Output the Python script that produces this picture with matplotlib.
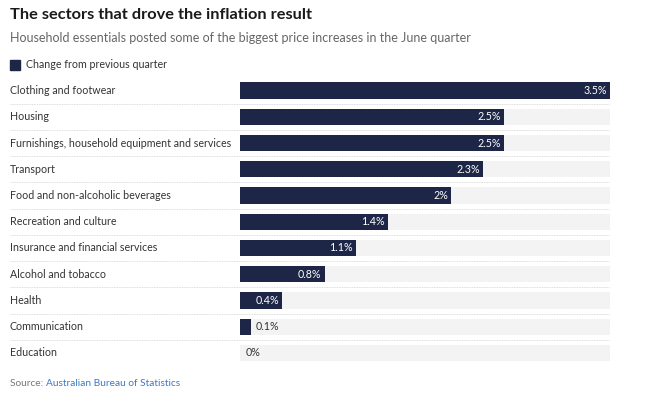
import matplotlib.pyplot as plt
import matplotlib.transforms as mtransforms

categories = ["Clothing and footwear", "Housing", "Furnishings, household equipment and services",
              "Transport", "Food and non-alcoholic beverages", "Recreation and culture",
              "Insurance and financial services", "Alcohol and tobacco", "Health",
              "Communication", "Education"]
values = [3.5, 2.5, 2.5, 2.3, 2.0, 1.4, 1.1, 0.8, 0.4, 0.1, 0.0]
value_labels = ["3.5%", "2.5%", "2.5%", "2.3%", "2%", "1.4%", "1.1%", "0.8%", "0.4%", "0.1%", "0%"]
xmax = 3.5

navy = "#1d2647"
grey_bg = "#f3f3f3"
text_col = "#333333"

plt.rcParams['font.family'] = ['Lato', 'DejaVu Sans']

W, H = 650, 394
fig = plt.figure(figsize=(6.5, 3.94), dpi=100)
# axes spans the bar area in pixels
ax_l, ax_r, ax_t, ax_b = 240, 610, 77.5, 366
ax = fig.add_axes([ax_l / W, 1 - ax_b / H, (ax_r - ax_l) / W, (ax_b - ax_t) / H])
n = len(categories)
ypos = list(range(n))
ax.set_xlim(0, xmax)
ax.set_ylim(n - 0.5, -0.5)
ax.axis("off")

bh = 0.62
ax.barh(ypos, [xmax] * n, height=bh, color=grey_bg, zorder=1)
ax.barh(ypos, values, height=bh, color=navy, zorder=2)

blend = mtransforms.blended_transform_factory(fig.transFigure, ax.transData)
for i, (cat, v, lab) in enumerate(zip(categories, values, value_labels)):
    ax.text(10 / W, i, cat, transform=blend, ha="left", va="center", fontsize=7.65, color=text_col)
    if v >= 0.35:
        ax.text(v - 0.03, i, lab, ha="right", va="center", fontsize=7.65, color="white", zorder=3)
    else:
        ax.text(v + 0.05, i, lab, ha="left", va="center", fontsize=7.65, color=text_col, zorder=3)
    if i < n - 1:
        ax.plot([10 / W, ax_r / W], [i + 0.5, i + 0.5], transform=blend, color="#d0d0d0",
                lw=0.6, ls=(0, (1, 1)), clip_on=False)

fig.text(10 / W, 1 - 15 / H, "The sectors that drove the inflation result", fontsize=11.8,
         fontweight="bold", color="#1a1a1a", va="center", ha="left")
fig.text(10 / W, 1 - 38 / H, "Household essentials posted some of the biggest price increases in the June quarter",
         fontsize=9.0, color="#666666", va="center", ha="left")
fig.patches.append(plt.Rectangle((10 / W, 1 - 70 / H), 10 / W, 10 / H, transform=fig.transFigure,
                                 color=navy, figure=fig))
fig.text(26 / W, 1 - 65 / H, "Change from previous quarter", fontsize=7.65, color=text_col,
         va="center", ha="left")
t = fig.text(10 / W, 1 - 383 / H, "Source: ", fontsize=7.3, color="#777777", va="center", ha="left")
fig.canvas.draw()
bb = t.get_window_extent()
fig.text(bb.x1 / W, 1 - 383 / H, "Australian Bureau of Statistics", fontsize=7.3, color="#3c78c3",
         va="center", ha="left")

fig.savefig("out.png", dpi=100, facecolor="white")
